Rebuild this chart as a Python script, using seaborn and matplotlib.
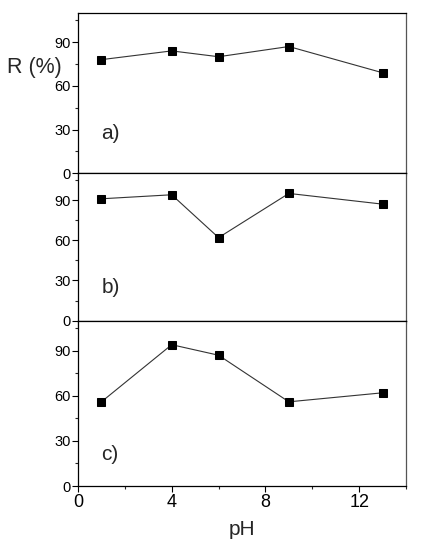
import matplotlib
matplotlib.use("Agg")
import matplotlib.pyplot as plt
import numpy as np
import pandas as pd
import seaborn as sns
from matplotlib.ticker import MultipleLocator

ph = [1, 4, 6, 9, 13]
r_a = [78, 84, 80, 87, 69]
r_b = [91, 94, 62, 95, 87]
r_c = [56, 94, 87, 56, 62]
panel_labels = ["a)", "b)", "c)"]

sns.set_style("ticks")
plt.rcParams['font.family'] = ['Liberation Sans', 'DejaVu Sans']
plt.rcParams['xtick.direction'] = 'out'
plt.rcParams['ytick.direction'] = 'out'

fig = plt.figure(figsize=(4.23, 5.5), dpi=100)
gs = fig.add_gridspec(3, 1, height_ratios=[160, 147, 165], hspace=0,
                      left=78/423, right=406/423, top=1-13/550, bottom=1-486/550)

series = [r_a, r_b, r_c]
label_y = [27, 25, 21]
axes = []
for i, vals in enumerate(series):
    ax = fig.add_subplot(gs[i])
    df = pd.DataFrame({"pH": ph, "R": vals})
    sns.lineplot(data=df, x="pH", y="R", ax=ax, color="#333333", linewidth=0.8,
                 marker="s", markersize=5.5, markerfacecolor="black",
                 markeredgecolor="black")
    ax.set_xlim(0, 14)
    ax.set_ylim(0, 110)
    ax.xaxis.set_major_locator(MultipleLocator(4))
    ax.xaxis.set_minor_locator(MultipleLocator(2))
    ax.yaxis.set_major_locator(MultipleLocator(30))
    ax.yaxis.set_minor_locator(MultipleLocator(15))
    ax.tick_params(axis='both', which='major', length=4, width=0.8, colors='black')
    ax.tick_params(axis='both', which='minor', length=2.5, width=0.8)
    ax.tick_params(axis='y', labelsize=10.5, pad=1)
    ax.tick_params(axis='x', labelsize=13, pad=2)
    for s in ax.spines.values():
        s.set_linewidth(0.9)
        s.set_color("black")
    ax.spines['right'].set_color("#555555")
    ax.set_ylabel("")
    ax.set_xlabel("")
    ax.text(1.0, label_y[i], panel_labels[i], fontsize=15, va='center', ha='left')
    if i < 2:
        ax.tick_params(axis='x', labelbottom=False)
    axes.append(ax)

axes[-1].set_xlabel("pH", fontsize=15, labelpad=6)
fig.text(7/423, 1-67/550, "R (%)", fontsize=15.5, va='center', ha='left')

fig.savefig("out.png", dpi=100)
